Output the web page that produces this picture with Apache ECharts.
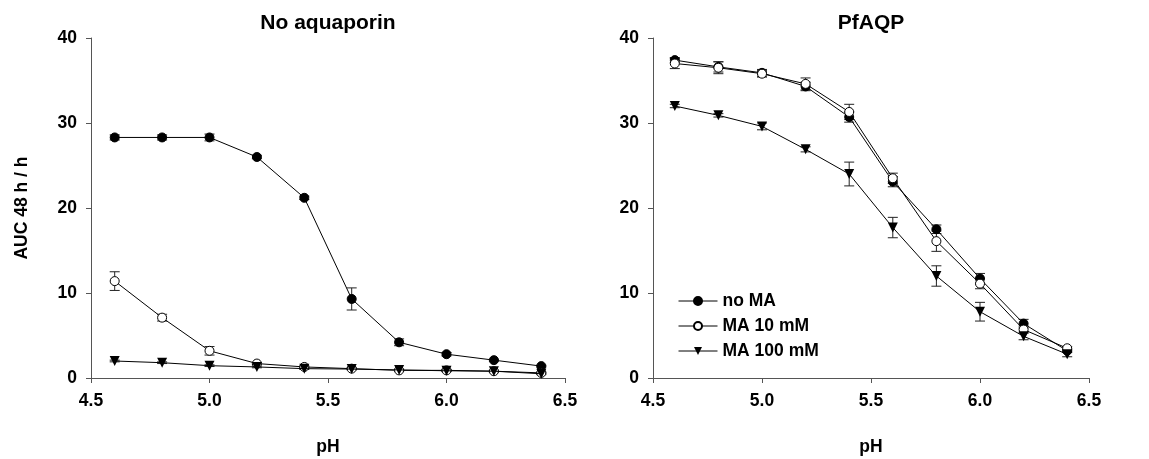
<!DOCTYPE html>
<html>
<head>
<meta charset="utf-8">
<title>AUC vs pH</title>
<script src="https://cdn.jsdelivr.net/npm/echarts@6/dist/echarts.min.js"></script>
<style>
  html, body { margin: 0; padding: 0; background: #fff; }
  #chart { width: 1149px; height: 459px; }
</style>
</head>
<body>
<div id="chart"></div>
<script>
// pH values shared by both panels
const phValues = [4.6, 4.8, 5.0, 5.2, 5.4, 5.6, 5.8, 6.0, 6.2, 6.4];
const xTicks = [4.5, 5.0, 5.5, 6.0, 6.5];
const yTicks = [0, 10, 20, 30, 40];
const seriesNames = ['no MA', 'MA 10 mM', 'MA 100 mM'];
const panelTitles = ['No aquaporin', 'PfAQP'];

// Panel 1: No aquaporin (mean and SEM)
const noAqpNoMA      = [28.3, 28.3, 28.3, 26.0, 21.2, 9.3, 4.2, 2.8, 2.1, 1.4];
const noAqpNoMAErr   = [0.3, 0.3, 0.4, 0.2, 0.2, 1.3, 0.4, 0.2, 0.1, 0.1];
const noAqpMA10      = [11.4, 7.1, 3.2, 1.7, 1.3, 1.1, 0.9, 0.9, 0.8, 0.6];
const noAqpMA10Err   = [1.1, 0.4, 0.5, 0.1, 0.1, 0.1, 0.1, 0.1, 0.1, 0.1];
const noAqpMA100     = [2.0, 1.8, 1.45, 1.3, 1.1, 1.05, 0.95, 0.85, 0.8, 0.5];
const noAqpMA100Err  = [0.1, 0.1, 0.1, 0.1, 0.1, 0.1, 0.1, 0.1, 0.1, 0.1];

// Panel 2: PfAQP (mean and SEM)
const pfaqpNoMA      = [37.4, 36.6, 35.9, 34.3, 30.7, 23.1, 17.5, 11.7, 6.4, 3.2];
const pfaqpNoMAErr   = [0.3, 0.6, 0.4, 0.5, 0.6, 0.6, 0.5, 0.6, 0.5, 0.2];
const pfaqpMA10      = [37.0, 36.5, 35.8, 34.6, 31.3, 23.5, 16.1, 11.1, 5.7, 3.5];
const pfaqpMA10Err   = [0.6, 0.7, 0.4, 0.7, 0.9, 0.6, 1.2, 0.6, 0.4, 0.2];
const pfaqpMA100     = [32.0, 30.9, 29.6, 26.9, 24.0, 17.7, 12.0, 7.8, 4.9, 2.8];
const pfaqpMA100Err  = [0.2, 0.2, 0.4, 0.3, 1.4, 1.2, 1.2, 1.1, 0.4, 0.3];

const FONT = '"Liberation Sans", Arial, Helvetica, sans-serif';
const AXIS_COLOR = '#555';

const panels = [
  { means: [noAqpNoMA, noAqpMA10, noAqpMA100], errs: [noAqpNoMAErr, noAqpMA10Err, noAqpMA100Err] },
  { means: [pfaqpNoMA, pfaqpMA10, pfaqpMA100], errs: [pfaqpNoMAErr, pfaqpMA10Err, pfaqpMA100Err] }
];

// marker look for each treatment
const markerStyles = [
  { symbol: 'circle', symbolSize: 9, symbolRotate: 0, itemStyle: { color: '#000', borderColor: '#000', borderWidth: 1 } },
  { symbol: 'circle', symbolSize: 9, symbolRotate: 0, itemStyle: { color: '#fff', borderColor: '#000', borderWidth: 1 } },
  { symbol: 'triangle', symbolSize: 10, symbolRotate: 180, itemStyle: { color: '#000', borderColor: '#000', borderWidth: 0 } }
];

// fixed plot rectangles; labels are allowed to sit outside them
const grids = [
  { left: 91, right: 584, top: 38, bottom: 81, outerBoundsMode: 'none', containLabel: false },
  { left: 653, right: 60, top: 38, bottom: 81, outerBoundsMode: 'none', containLabel: false }
];

const xAxes = grids.map((g, i) => ({
  type: 'value', gridIndex: i, min: xTicks[0], max: xTicks[xTicks.length - 1], interval: 0.5,
  name: 'pH', nameLocation: 'middle', nameGap: 60,
  nameTextStyle: { fontFamily: FONT, fontWeight: 'bold', fontSize: 17.5, color: '#000' },
  axisLine: { show: true, lineStyle: { color: AXIS_COLOR, width: 1 } },
  axisTick: { show: true, length: 5, lineStyle: { color: AXIS_COLOR } },
  axisLabel: { margin: 14, fontFamily: FONT, fontWeight: 'bold', fontSize: 17.5, color: '#000',
               formatter: v => v.toFixed(1) },
  splitLine: { show: false }
}));

const yAxes = grids.map((g, i) => ({
  type: 'value', gridIndex: i, min: yTicks[0], max: yTicks[yTicks.length - 1], interval: 10,
  name: i === 0 ? 'AUC 48 h / h' : '', nameLocation: 'middle', nameGap: 60, nameRotate: 90,
  nameTextStyle: { fontFamily: FONT, fontWeight: 'bold', fontSize: 17.5, color: '#000' },
  axisLine: { show: true, lineStyle: { color: AXIS_COLOR, width: 1 } },
  axisTick: { show: true, length: 5, lineStyle: { color: AXIS_COLOR } },
  axisLabel: { margin: 14, fontFamily: FONT, fontWeight: 'bold', fontSize: 17.5, color: '#000' },
  splitLine: { show: false }
}));

// vertical error bar with caps
function renderErrorBar(params, api) {
  const x = api.value(0);
  const lo = api.coord([x, api.value(1)]);
  const hi = api.coord([x, api.value(2)]);
  const hw = 5;
  const style = { stroke: '#222', lineWidth: 1 };
  return {
    type: 'group',
    children: [
      { type: 'line', shape: { x1: lo[0], y1: lo[1], x2: hi[0], y2: hi[1] }, style },
      { type: 'line', shape: { x1: lo[0] - hw, y1: lo[1], x2: lo[0] + hw, y2: lo[1] }, style },
      { type: 'line', shape: { x1: hi[0] - hw, y1: hi[1], x2: hi[0] + hw, y2: hi[1] }, style }
    ]
  };
}

const series = [];
panels.forEach((panel, p) => {
  panel.means.forEach((vals, s) => {
    series.push({
      type: 'custom',
      name: seriesNames[s] + ' SEM',
      xAxisIndex: p, yAxisIndex: p,
      renderItem: renderErrorBar,
      encode: { x: 0, y: [1, 2] },
      data: phValues.map((ph, k) => [ph, vals[k] - panel.errs[s][k], vals[k] + panel.errs[s][k]]),
      z: 1, silent: true
    });
  });
  panel.means.forEach((vals, s) => {
    const m = markerStyles[s];
    series.push({
      type: 'line',
      name: seriesNames[s],
      xAxisIndex: p, yAxisIndex: p,
      data: phValues.map((ph, k) => [ph, vals[k]]),
      symbol: m.symbol, symbolSize: m.symbolSize, symbolRotate: m.symbolRotate,
      showAllSymbol: true,
      itemStyle: m.itemStyle,
      lineStyle: { color: '#000', width: 1 },
      z: 3 + s,
      animation: false
    });
  });
});

const option = {
  animation: false,
  backgroundColor: '#fff',
  grid: grids,
  xAxis: xAxes,
  yAxis: yAxes,
  legend: {
    data: seriesNames,
    orient: 'vertical',
    left: 673, top: 286,
    itemWidth: 39, itemHeight: 10, itemGap: 5,
    selectedMode: false,
    lineStyle: { width: 1, color: '#000' },
    textStyle: { fontFamily: FONT, fontWeight: 'bold', fontSize: 17.5, color: '#000', lineHeight: 20 }
  },
  graphic: panelTitles.map((t, i) => ({
    type: 'text',
    x: i === 0 ? 328 : 871, y: 13,
    style: { text: t, fontFamily: FONT, fontWeight: 'bold', fontSize: 21, fill: '#000', textAlign: 'center', textVerticalAlign: 'top' }
  })),
  series
};

const chart = echarts.init(document.getElementById('chart'), null, { renderer: 'canvas' });
chart.setOption(option);
</script>
</body>
</html>
